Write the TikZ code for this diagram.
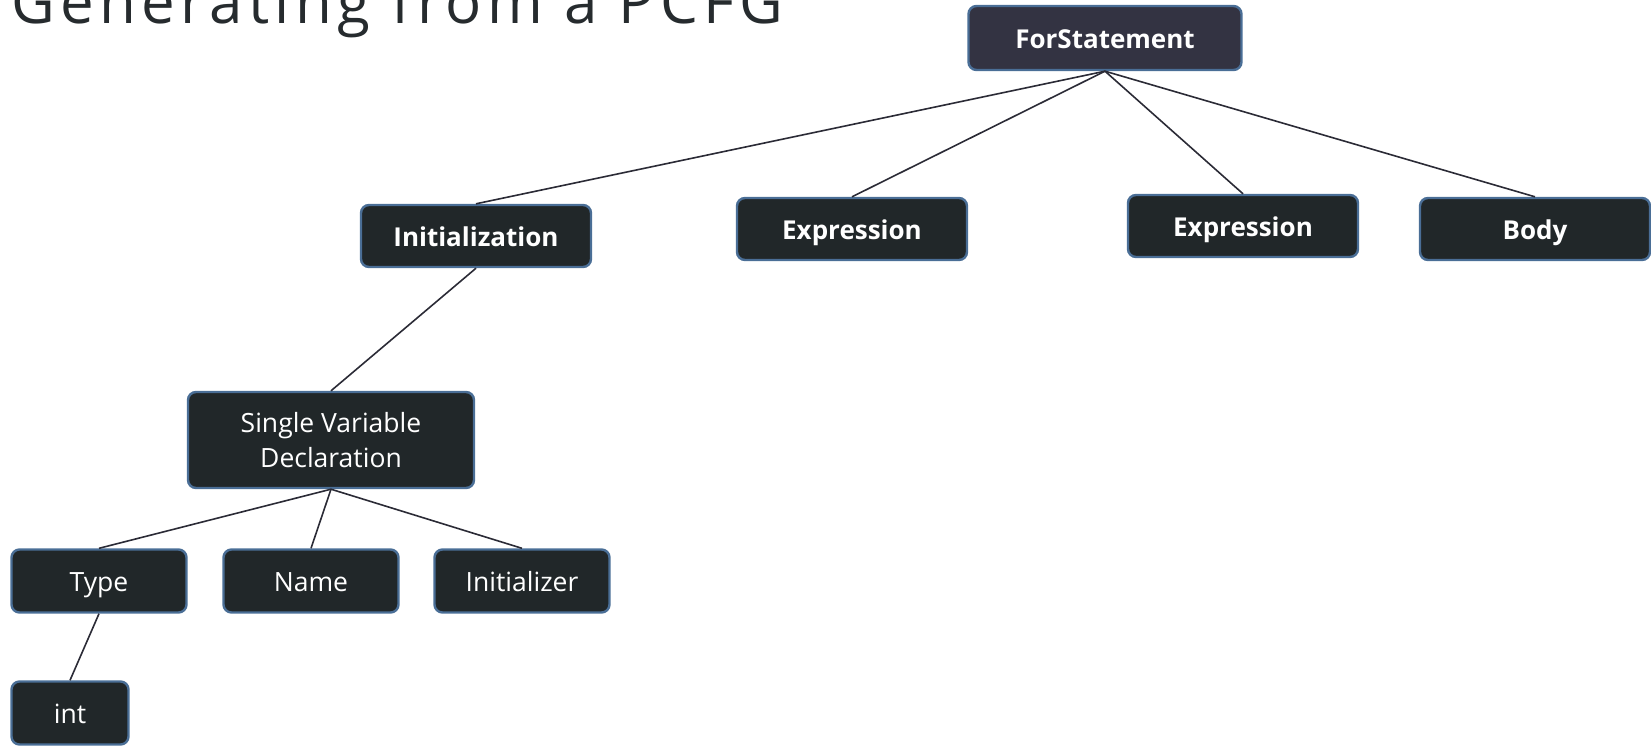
\documentclass[tikz,border=0pt]{standalone}
\usepackage{fontspec}
\setmainfont{Open Sans}
\newfontfamily\headfont{Open Sans}[LetterSpace=9]
\definecolor{nodefill}{HTML}{212729}
\definecolor{rootfill}{HTML}{333342}
\definecolor{nodeedge}{HTML}{4A6E96}
\definecolor{edgeline}{HTML}{2B2B36}
\definecolor{titleink}{HTML}{262B2E}
\tikzset{
  box/.style={draw=nodeedge, line width=2.4pt, fill=nodefill, rounded corners=8pt,
    text=white, align=center, inner sep=0pt, font=\fontsize{26.5}{35}\selectfont},
  tnode/.style={box, text height=21pt, text depth=0pt},
  hnode/.style={tnode, font=\fontsize{26}{35}\selectfont\bfseries},
  branch/.style={draw=edgeline, line width=1.6pt},
}
\begin{document}
\begin{tikzpicture}[x=1pt,y=-1pt]
\useasboundingbox (0,0) rectangle (1651,747);
\node[anchor=base east, text=titleink, font=\headfont\fontsize{60}{70}\selectfont] (title) at (787,23) {Generating from a PCFG};
% top two levels
\node[hnode, fill=rootfill, minimum width=273pt, minimum height=64pt] (for) at (1105,38) {ForStatement};
\node[hnode, minimum width=230pt, minimum height=62pt] (init) at (476,236) {Initialization};
\node[hnode, minimum width=230pt, minimum height=62pt] (expa) at (852,229) {Expression};
\node[hnode, minimum width=230pt, minimum height=62pt] (expb) at (1243,226) {Expression};
\node[hnode, minimum width=230pt, minimum height=62pt] (body) at (1535,229) {Body};
% declaration subtree
\node[box, minimum width=286pt, minimum height=96pt] (decl) at (331,440) {Single Variable\\Declaration};
\node[tnode, minimum width=175pt, minimum height=63pt] (type) at (99,581) {Type};
\node[tnode, minimum width=175pt, minimum height=63pt] (name) at (311,581) {Name};
\node[tnode, minimum width=175pt, minimum height=63pt] (initr) at (522,581) {Initializer};
\node[tnode, minimum width=117pt, minimum height=63pt] (int) at (70,713) {int};
\foreach \a/\b in {for/init,for/expa,for/expb,for/body,init/decl,decl/type,decl/name,decl/initr,type/int} {
    \draw[branch] (\a.south) -- (\b.north);
}
\end{tikzpicture}
\end{document}
